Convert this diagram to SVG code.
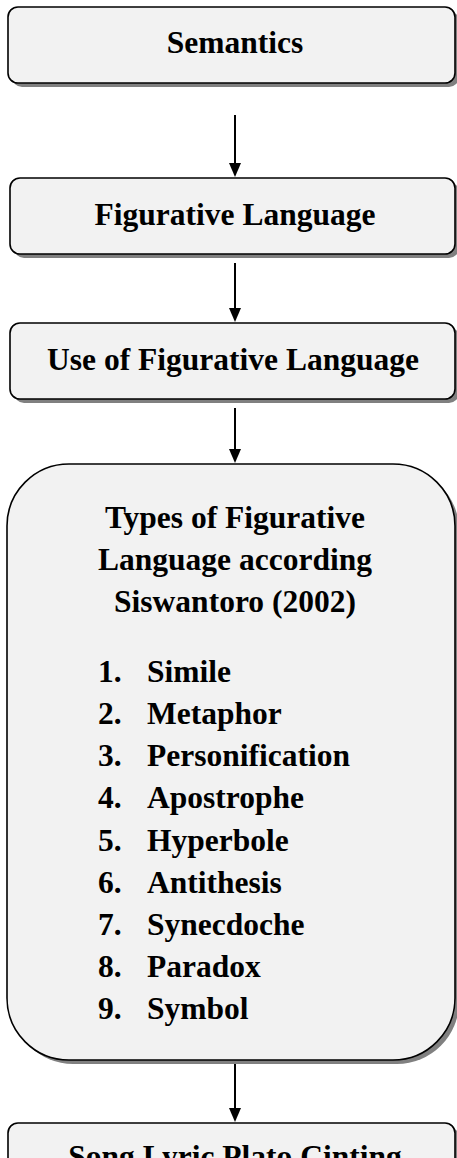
<svg xmlns="http://www.w3.org/2000/svg" width="457" height="1158" viewBox="0 0 457 1158">
<style>
.box{fill:#f2f2f2;stroke:#000;stroke-width:1.6}
.sh{fill:#808080}
.t{font-family:"Liberation Serif","Times New Roman",serif;font-weight:bold;font-size:31.5px;fill:#000}
.c{text-anchor:middle}
.ln{stroke:#000;stroke-width:2;fill:none}
</style>
<defs>
<marker id="ah" markerWidth="12" markerHeight="14" refX="6" refY="14" orient="auto-start-reverse" markerUnits="userSpaceOnUse" viewBox="0 0 12 14">
<path d="M0,0 L12,0 L6,14 Z" fill="#000" transform="rotate(-90 6 7) translate(0 0)"/>
</marker>
</defs>
<rect width="457" height="1158" fill="#fff"/>
<g id="connectors">
<line class="ln" x1="235" y1="115" x2="235" y2="164"/>
<path d="M229,163 L241,163 L235,177 Z"/>
<line class="ln" x1="235" y1="263" x2="235" y2="309"/>
<path d="M229,308 L241,308 L235,322 Z"/>
<line class="ln" x1="235" y1="408" x2="235" y2="450"/>
<path d="M229,449 L241,449 L235,463 Z"/>
<line class="ln" x1="235" y1="1061" x2="235" y2="1109"/>
<path d="M229,1108 L241,1108 L235,1122 Z"/>
</g>
<g id="semantics">
<rect class="sh" x="12" y="11" width="447" height="76" rx="10"/>
<rect class="box" x="8" y="7" width="447" height="76" rx="10"/>
<text class="t c" x="235" y="53">Semantics</text>
</g>
<g id="figurative">
<rect class="sh" x="14" y="182" width="445" height="76" rx="10"/>
<rect class="box" x="10" y="178" width="445" height="76" rx="10"/>
<text class="t c" x="235" y="225">Figurative Language</text>
</g>
<g id="use">
<rect class="sh" x="14" y="327" width="445" height="76" rx="10"/>
<rect class="box" x="10" y="323" width="445" height="76" rx="10"/>
<text class="t c" x="233" y="370">Use of Figurative Language</text>
</g>
<g id="types">
<rect class="sh" x="11" y="468" width="448" height="596" rx="62"/>
<rect class="box" x="7" y="464" width="448" height="596" rx="62"/>
<text class="t c" x="235" y="528">Types of Figurative</text>
<text class="t c" x="235" y="570">Language according</text>
<text class="t c" x="235" y="612">Siswantoro (2002)</text>
<g class="t">
<text x="98" y="682">1.</text><text x="147" y="682">Simile</text>
<text x="98" y="724">2.</text><text x="147" y="724">Metaphor</text>
<text x="98" y="766">3.</text><text x="147" y="766">Personification</text>
<text x="98" y="808">4.</text><text x="147" y="808">Apostrophe</text>
<text x="98" y="851">5.</text><text x="147" y="851">Hyperbole</text>
<text x="98" y="893">6.</text><text x="147" y="893">Antithesis</text>
<text x="98" y="935">7.</text><text x="147" y="935">Synecdoche</text>
<text x="98" y="977">8.</text><text x="147" y="977">Paradox</text>
<text x="98" y="1019">9.</text><text x="147" y="1019">Symbol</text>
</g>
</g>
<g id="song">
<rect class="sh" x="12" y="1127" width="447" height="80" rx="10"/>
<rect class="box" x="8" y="1123" width="447" height="80" rx="10"/>
<text class="t c" x="235" y="1167">Song Lyric Plato Cinting</text>
</g>
</svg>
